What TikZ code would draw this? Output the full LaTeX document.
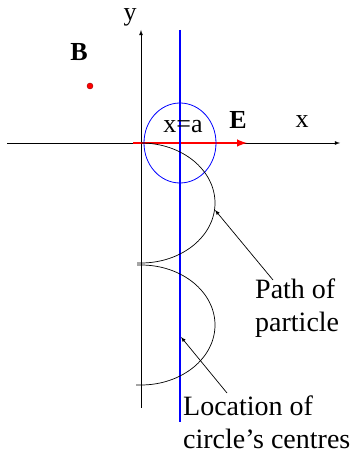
\documentclass[tikz,border=0pt]{standalone}
\usepackage{fontspec}
\setmainfont{Liberation Serif}
\usetikzlibrary{arrows, positioning}

\begin{document}
\begin{tikzpicture}[
    x=1pt, y=1pt,
    >=latex,
    axis/.style={->, line width=0.8pt},
    track/.style={line width=0.7pt},
    label/.style={font=\fontsize{26}{30}\selectfont, inner sep=0pt},
    note/.style={font=\fontsize{28}{33}\selectfont, align=left, inner sep=1pt},
    pointer/.style={->, line width=0.7pt}
]
\useasboundingbox (0,0) rectangle (352,456);

% ---------------- AXES ----------------
\coordinate (origin) at (141,313);
\coordinate (xend) at (340,313);
\coordinate (xstart) at (7,313);
\coordinate (ytop) at (141,426);
\coordinate (ybot) at (141,48);

\draw[axis] (xstart)--(xend);
\draw[axis] (ybot)--(ytop);

\node[label] (xlab) at (302,334) {x};
\node[label] (ylab) at (130,439) {y};

% ---------------- FIELDS ----------------
\node[label, font=\fontsize{26}{30}\selectfont\bfseries] (blab) at (79,404) {B};
\node[circle, draw=red!60!black, fill=red, inner sep=0pt, minimum size=6pt] (bdot) at (90,370) {};

\coordinate (etail) at (133,313);
\coordinate (ehead) at (247,313);
\draw[->, red, line width=2.4pt] (etail)--(ehead);
\node[label, font=\fontsize{26}{30}\selectfont\bfseries] (elab) at (238,336) {E};

% ---------------- CENTRES ----------------
\coordinate (ctop) at (180,426);
\coordinate (cbot) at (180,34);
\draw[blue, line width=1.1pt] (ctop)--(cbot);
\draw[blue, line width=0.8pt] (180,313) ellipse[x radius=36, y radius=40];
\node[label] (xeqa) at (183,329) {x=a};

% ---------------- PATH ----------------
\draw[track] (origin) arc[start angle=90, end angle=-90, x radius=74, y radius=60] -- (137,193);
\draw[track] (137,191) -- (141,191) arc[start angle=90, end angle=-90, x radius=74, y radius=60] -- (136,71);

% Labels
\node[note, anchor=north west] (path) at (254,178) {Path of\\particle};
\coordinate (pstart) at (273,176);
\coordinate (phit) at (215,246);
\draw[pointer] (pstart)--(phit);

\node[note, anchor=north west] (centres) at (182,61) {Location of\\circle's centres};
\coordinate (cstart) at (227,63);
\coordinate (chit) at (181,119);
\draw[pointer] (cstart)--(chit);

\end{tikzpicture}
\end{document}
